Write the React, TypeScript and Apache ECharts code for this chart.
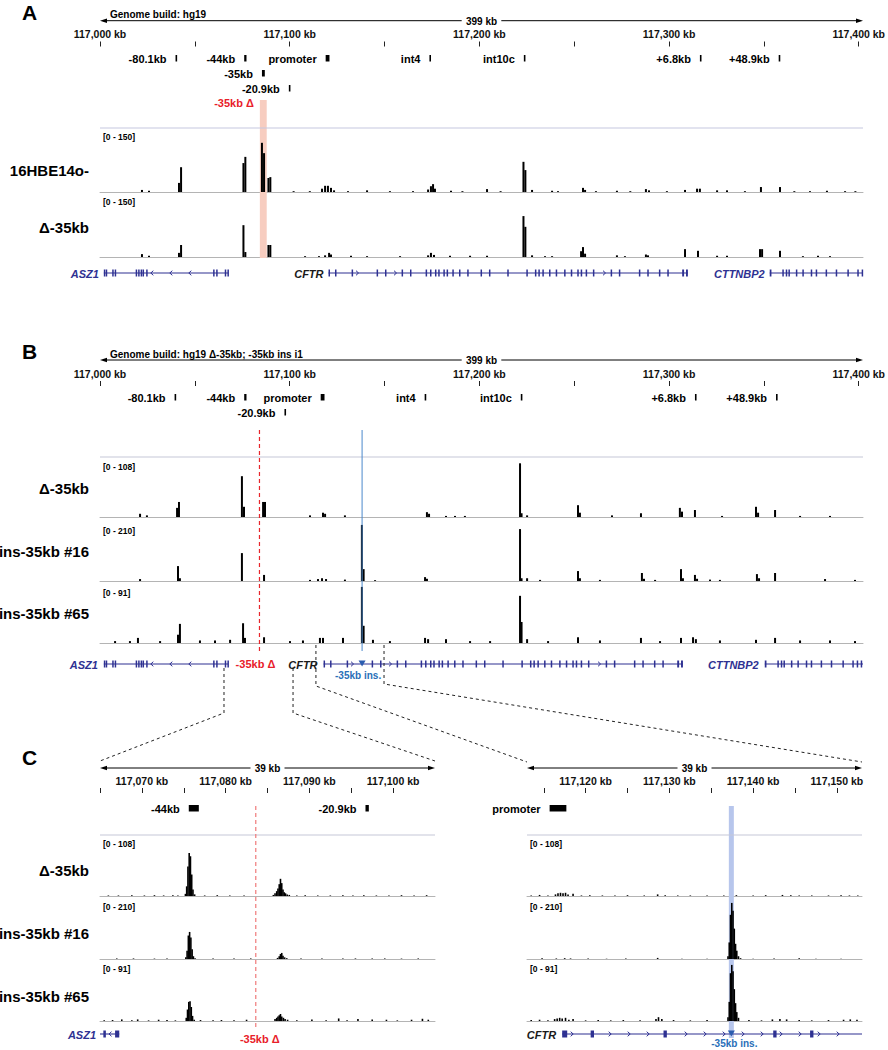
import React, { useEffect, useRef } from 'react';
import * as echarts from 'echarts';

const FONT = '"Liberation Sans", Arial, Helvetica, sans-serif';

// ---------- coordinate ranges (kb) ----------
const GENOME_RANGE: [number, number] = [117000, 117400];
const ZOOM_LEFT_RANGE: [number, number] = [117065, 117105];
const ZOOM_RIGHT_RANGE: [number, number] = [117113, 117153];

const GENOME_TICKS = [117000, 117050, 117100, 117150, 117200, 117250, 117300, 117350, 117400];
const GENOME_TICK_LABELS = [117000, 117100, 117200, 117300, 117400];
const ZOOM_LEFT_TICKS = [117065, 117070, 117075, 117080, 117085, 117090, 117095, 117100];
const ZOOM_LEFT_TICK_LABELS = [117070, 117080, 117090, 117100];
const ZOOM_RIGHT_TICKS = [117115, 117120, 117125, 117130, 117135, 117140, 117145, 117150];
const ZOOM_RIGHT_TICK_LABELS = [117120, 117130, 117140, 117150];

// ---------- landmarks (kb) ----------
const DEL_REGION_HG19 = [117083.8, 117087.4];
const DEL_POINT_KB = 117083.6; // in the Δ-35kb build
const DEL_SHIFT_KB = 2.6; // hg19 - Δ build, downstream of the deletion
const INS_POINT_KB = 117137.4;
const ZOOM_MARKS_KB = [117065, 117101.2, 117113.2, 117148.9];

// ---------- regulatory elements: [label, start kb, end kb, row] ----------
const FEATURES_HG19: [string, number, number, number][] = [
  ['-80.1kb', 117039.6, 117040.1, 0],
  ['-44kb', 117075.6, 117076.8, 0],
  ['promoter', 117118.3, 117120.3, 0],
  ['int4', 117172.7, 117173.5, 0],
  ['int10c', 117222.2, 117222.7, 0],
  ['+6.8kb', 117314.5, 117315.0, 0],
  ['+48.9kb', 117355.8, 117356.3, 0],
  ['-35kb', 117084.9, 117086.4, 1],
  ['-20.9kb', 117099.0, 117099.4, 2],
];
const FEATURES_DEL: [string, number, number, number][] = [
  ['-80.1kb', 117039.1, 117039.6, 0],
  ['-44kb', 117075.6, 117076.8, 0],
  ['promoter', 117115.7, 117117.7, 0],
  ['int4', 117170.2, 117171.0, 0],
  ['int10c', 117220.6, 117221.1, 0],
  ['+6.8kb', 117311.9, 117312.4, 0],
  ['+48.9kb', 117354.4, 117354.9, 0],
  ['-20.9kb', 117096.7, 117097.1, 1],
];

// ---------- genes (Δ-35kb build coordinates) ----------
const ASZ1_EXONS = [[117002.0, 117002.6], [117003.0, 117003.5], [117006.4, 117006.9], [117007.7, 117008.2], [117018.7, 117019.1], [117020.0, 117020.4], [117021.3, 117021.7], [117022.3, 117022.7], [117024.2, 117024.7], [117059.3, 117059.7], [117060.9, 117061.3], [117065.4, 117065.7], [117066.8, 117067.3]];
const CFTR_EXONS = [[117117.2, 117117.8], [117120.6, 117121.0], [117129.3, 117129.7], [117142.4, 117142.8], [117146.8, 117147.2], [117155.5, 117155.9], [117159.9, 117160.3], [117168.1, 117168.5], [117170.4, 117170.8], [117173.0, 117173.4], [117174.7, 117175.1], [117177.4, 117177.8], [117179.1, 117179.5], [117182.1, 117182.5], [117185.6, 117186.0], [117189.9, 117190.3], [117196.9, 117197.3], [117201.3, 117201.7], [117210.9, 117211.3], [117220.9, 117221.3], [117225.4, 117225.8], [117227.2, 117227.6], [117229.3, 117229.7], [117232.8, 117233.2], [117236.3, 117236.7], [117240.7, 117241.1], [117244.2, 117244.6], [117247.6, 117248.0], [117249.4, 117249.8], [117252.0, 117252.4], [117255.8, 117256.2], [117265.1, 117265.5], [117269.4, 117269.8], [117279.9, 117280.3], [117284.3, 117284.7], [117290.4, 117290.8], [117294.8, 117295.2], [117302.6, 117303.6], [117304.6, 117305.6]];
const CTTNBP2_EXONS = [[117348.5, 117349.4], [117355.1, 117355.5], [117356.9, 117357.3], [117358.3, 117358.7], [117362.2, 117362.6], [117365.6, 117366.0], [117370.0, 117370.4], [117372.6, 117373.0], [117377.8, 117378.2], [117383.1, 117383.5], [117389.2, 117389.6], [117394.4, 117394.8], [117396.7, 117397.1], [117398.8, 117399.2]];
const GENE_NAMES = ['ASZ1', 'CFTR', 'CTTNBP2'];
const GENE_SPANS = [[117002.0, 117067.3], [117117.2, 117305.6], [117348.5, 117405.0]];
const GENE_STRANDS = ['-', '+', '-'];
const GENE_EXONS = [ASZ1_EXONS, CFTR_EXONS, CTTNBP2_EXONS];

// ---------- signal tracks: [kb, value] ----------
const A_16HBE = [[117022.0, 5], [117025.7, 3], [117041.4, 22], [117042.5, 60], [117075.2, 70], [117076.2, 85], [117084.9, 119], [117086.0, 94], [117088.3, 34], [117089.3, 36], [117101.5, 2], [117110.0, 2], [117116.4, 8], [117118.0, 15], [117119.5, 15], [117121.1, 10], [117122.7, 4], [117130.0, 2], [117140.0, 4], [117152.0, 2], [117164.1, 2], [117172.0, 6], [117173.5, 14], [117174.6, 19], [117175.6, 8], [117184.0, 3], [117190.0, 2], [117202.9, 7], [117210.0, 2], [117222.0, 73], [117223.0, 53], [117226.5, 5], [117237.0, 3], [117240.1, 2], [117253.2, 10], [117254.3, 5], [117260.0, 2], [117271.0, 3], [117278.0, 2], [117286.2, 7], [117287.8, 4], [117297.2, 2], [117306.7, 5], [117313.0, 8], [117314.5, 8], [117323.5, 4], [117328.7, 4], [117338.1, 2], [117346.5, 12], [117356.5, 12], [117364.0, 2], [117372.2, 2], [117381.1, 3], [117390.6, 2], [117396.0, 2]];
const A_DEL35 = [[117022.0, 7], [117025.7, 3], [117041.4, 10], [117042.5, 29], [117075.2, 77], [117076.2, 12], [117088.3, 29], [117089.3, 29], [117107.5, 2], [117114.8, 2], [117118.0, 4], [117120.1, 10], [117121.1, 6], [117131.6, 3], [117140.0, 2], [117157.3, 2], [117172.0, 4], [117173.5, 10], [117175.1, 5], [117183.5, 3], [117194.0, 3], [117202.9, 3], [117222.0, 99], [117223.0, 73], [117226.5, 4], [117233.3, 2], [117237.0, 2], [117252.2, 14], [117253.2, 24], [117254.3, 8], [117271.0, 4], [117275.2, 2], [117286.2, 6], [117287.3, 4], [117306.7, 19], [117313.5, 15], [117323.5, 3], [117328.7, 3], [117346.0, 19], [117347.1, 19], [117356.5, 15], [117368.5, 2], [117376.4, 3], [117382.7, 2]];

const B_DEL35 = [[117021.0, 6], [117024.6, 3], [117040.4, 17], [117041.4, 28], [117074.4, 76], [117075.5, 19], [117085.5, 28], [117086.5, 28], [117110.1, 3], [117116.9, 8], [117118.0, 6], [117128.4, 3], [117171.4, 9], [117172.5, 6], [117181.4, 2], [117186.1, 2], [117191.3, 2], [117220.2, 100], [117221.0, 7], [117223.9, 3], [117250.6, 22], [117251.6, 8], [117268.4, 3], [117283.6, 7], [117304.0, 17], [117305.1, 10], [117311.9, 13], [117326.1, 2], [117343.9, 19], [117345.0, 8], [117353.9, 13], [117367.0, 2], [117382.7, 2]];
const B_INS16 = [[117021.0, 7], [117040.9, 54], [117041.9, 10], [117074.4, 101], [117086.0, 22], [117110.1, 4], [117114.3, 7], [117116.4, 10], [117118.5, 7], [117128.4, 5], [117137.3, 203], [117138.2, 43], [117144.2, 3], [117170.4, 14], [117171.4, 8], [117220.2, 188], [117221.0, 10], [117223.9, 10], [117230.7, 4], [117250.6, 36], [117251.6, 10], [117262.1, 4], [117284.1, 29], [117285.2, 8], [117291.0, 4], [117304.6, 43], [117305.6, 10], [117311.9, 22], [117313.0, 8], [117319.8, 5], [117325.0, 4], [117344.4, 25], [117345.5, 10], [117353.9, 29], [117380.1, 7], [117395.8, 4]];
const B_INS65 = [[117007.9, 3], [117015.7, 3], [117019.9, 8], [117031.5, 3], [117040.9, 13], [117041.9, 30], [117052.4, 4], [117060.3, 4], [117068.2, 5], [117075.0, 31], [117076.0, 8], [117086.0, 9], [117099.6, 3], [117106.4, 4], [117115.3, 8], [117116.9, 8], [117127.4, 8], [117137.3, 88], [117138.2, 27], [117143.1, 5], [117152.0, 3], [117170.4, 8], [117172.0, 6], [117181.4, 6], [117194.0, 3], [117204.5, 3], [117220.2, 74], [117221.0, 33], [117223.9, 6], [117234.9, 3], [117250.6, 9], [117262.1, 4], [117283.6, 8], [117293.6, 3], [117304.6, 8], [117310.9, 9], [117312.4, 6], [117325.0, 4], [117343.9, 5], [117353.9, 8], [117367.0, 4], [117382.7, 4], [117395.8, 3]];

const CL_DEL35 = [[117066.0, 1], [117067.2, 1], [117068.8, 1.5], [117070.3, 1], [117071.5, 1.5], [117072.6, 1], [117073.7, 1.5], [117074.3, 1], [117075.2, 4], [117075.35, 18], [117075.5, 55], [117075.65, 80], [117075.8, 74], [117075.95, 40], [117076.1, 12], [117076.3, 3], [117077.5, 1], [117079.0, 1.5], [117080.5, 1], [117082.2, 1], [117085.7, 2], [117085.9, 5], [117086.1, 9], [117086.25, 14], [117086.4, 22], [117086.55, 32], [117086.7, 24], [117086.85, 12], [117087.0, 7], [117087.15, 5], [117087.35, 3], [117087.6, 2], [117088.5, 1], [117089.5, 1.5], [117091.0, 1], [117092.5, 1], [117094.0, 1.5], [117095.2, 1], [117096.5, 1.5], [117098.0, 1], [117099.5, 1], [117101.0, 1.5], [117102.5, 1], [117104.0, 1.5]];
const CL_INS16 = [[117067.0, 2], [117069.0, 2], [117071.5, 1.5], [117073.0, 2], [117075.25, 6], [117075.4, 30], [117075.55, 85], [117075.7, 98], [117075.85, 78], [117076.0, 35], [117076.15, 10], [117076.35, 3], [117078.5, 2], [117081.0, 1.5], [117083.0, 2], [117086.2, 4], [117086.4, 10], [117086.55, 18], [117086.7, 22], [117086.85, 12], [117087.05, 6], [117087.3, 3], [117089.0, 1.5], [117091.5, 2], [117094.0, 2], [117095.5, 2], [117097.5, 2], [117099.0, 2], [117101.0, 1.5], [117103.0, 2]];
const CL_INS65 = [[117065.5, 1], [117066.5, 1.5], [117067.6, 2.5], [117068.8, 1], [117069.5, 2.5], [117070.8, 1], [117072.0, 2], [117073.0, 1.5], [117074.0, 1], [117075.3, 5], [117075.45, 18], [117075.6, 30], [117075.75, 31], [117075.9, 22], [117076.05, 8], [117076.25, 2], [117077.0, 1.5], [117078.5, 1], [117079.5, 1.5], [117081.0, 1], [117082.5, 2], [117085.9, 3], [117086.1, 5], [117086.25, 7], [117086.4, 9], [117086.55, 11], [117086.7, 7], [117086.9, 5], [117087.1, 3], [117087.4, 2], [117088.5, 1], [117090.3, 2.5], [117092.0, 1], [117093.5, 4], [117094.5, 1], [117095.8, 3], [117097.5, 2.5], [117099.2, 2], [117100.5, 1], [117102.2, 2], [117103.5, 3.5], [117104.2, 2]];

const CR_DEL35 = [[117113.5, 1], [117114.5, 2], [117115.5, 1], [117116.4, 3], [117116.7, 5], [117117.0, 6], [117117.3, 5], [117117.6, 6], [117117.9, 3], [117118.5, 4], [117119.5, 1], [117120.5, 1.5], [117122.0, 1], [117123.5, 1], [117125.0, 1.5], [117127.0, 1], [117128.6, 3], [117129.5, 1.5], [117131.0, 1], [117132.5, 1], [117134.5, 1], [117136.5, 1], [117138.0, 1.5], [117140.0, 1], [117141.5, 1.5], [117143.5, 2], [117144.5, 1.5], [117145.5, 1], [117147.0, 1], [117149.0, 1], [117150.5, 1.5], [117151.5, 1], [117152.5, 1]];
const CR_INS16 = [[117114.8, 3], [117116.5, 2], [117117.5, 3], [117118.2, 2], [117120.3, 1.5], [117122.5, 1], [117124.8, 2], [117128.6, 4], [117131.5, 1], [117134.5, 1], [117137.0, 10], [117137.15, 60], [117137.3, 160], [117137.45, 203], [117137.6, 175], [117137.75, 110], [117137.9, 55], [117138.05, 30], [117138.25, 10], [117138.5, 3], [117140.0, 1], [117142.5, 2], [117145.5, 2.5], [117147.5, 1], [117150.5, 1]];
const CR_INS65 = [[117113.5, 1.5], [117114.5, 2], [117115.5, 1], [117116.3, 3], [117116.6, 4], [117116.9, 5], [117117.2, 4], [117117.6, 5], [117118.0, 2], [117118.5, 3], [117120.0, 1], [117121.5, 1.5], [117123.0, 1], [117124.5, 1.5], [117126.5, 1], [117128.4, 3], [117128.7, 6], [117129.1, 3], [117130.5, 1.5], [117132.5, 1], [117134.5, 1.5], [117137.0, 6], [117137.15, 30], [117137.3, 75], [117137.45, 88], [117137.6, 78], [117137.75, 50], [117137.9, 28], [117138.05, 14], [117138.25, 5], [117139.5, 1.5], [117141.0, 1], [117142.3, 2.5], [117143.2, 3], [117144.0, 2.5], [117145.5, 1.5], [117147.0, 1], [117149.0, 1.5], [117150.8, 2], [117151.6, 2.5], [117152.4, 2]];

// ---------- layout ----------
const GENE_COLOR = '#2e3192';
const GENE_LABEL_COLORS = ['#2e3192', '#1a1a1a', '#2e3192'];

function buildOption() {
  const grid: any[] = [];
  const xAxis: any[] = [];
  const yAxis: any[] = [];
  const series: any[] = [];
  const graphic: any[] = [];

  const T = (text: string, x: number, y: number, o: any = {}) => {
    const align = o.align || 'left';
    const v = o.v || 'middle';
    graphic.push({
      type: 'text', x, y, z: 100, silent: true,
      style: {
        text, fill: o.color || '#000',
        font: `${o.italic ? 'italic ' : ''}${o.weight || 'bold'} ${o.size || 11}px ${FONT}`,
        align, verticalAlign: v, textAlign: align, textVerticalAlign: v,
      },
    });
  };
  const L = (x1: number, y1: number, x2: number, y2: number, o: any = {}) => {
    graphic.push({ type: 'line', z: o.z ?? 20, silent: true, shape: { x1, y1, x2, y2 }, style: { stroke: o.color || '#000', lineWidth: o.w || 1, lineDash: o.dash } });
  };
  const R = (x: number, y: number, w: number, h: number, fill: string, z = 1) => {
    graphic.push({ type: 'rect', z, silent: true, shape: { x, y, width: w, height: h }, style: { fill } });
  };
  const P = (points: number[][], fill: string) => {
    graphic.push({ type: 'polygon', z: 30, silent: true, shape: { points }, style: { fill } });
  };

  const lin = (range: [number, number], left: number, width: number) => (kb: number) => left + ((kb - range[0]) / (range[1] - range[0])) * width;
  const xG = lin(GENOME_RANGE, 100, 763);
  const xCL = lin(ZOOM_LEFT_RANGE, 100, 335);
  const xCR = lin(ZOOM_RIGHT_RANGE, 527, 335);

  const addGrid = (left: number, width: number, top: number, height: number, range: [number, number], xExtra: any = {}, yMax = 1, yInverse = false) => {
    const i = grid.length;
    grid.push({ left, width, top, height, show: false });
    xAxis.push({ gridIndex: i, type: 'value', min: range[0], max: range[1], show: false, splitLine: { show: false }, ...xExtra });
    yAxis.push({ gridIndex: i, type: 'value', min: 0, max: yMax, inverse: yInverse, show: false, splitLine: { show: false } });
    return i;
  };

  const addRulerAxis = (left: number, width: number, top: number, range: [number, number], ticks: number[], labels: number[]) =>
    addGrid(left, width, top, 1, range, {
      show: true,
      position: 'top',
      axisLine: { show: false },
      axisTick: { show: true, length: 5, customValues: ticks, lineStyle: { color: '#222', width: 1 } },
      axisLabel: {
        show: true, customValues: labels, margin: 6,
        formatter: (v: number) => `${Number(v).toLocaleString('en-US')} kb`,
        fontSize: 10.5, fontWeight: 'bold', fontFamily: FONT, color: '#111',
      },
    });

  const addRuler = (x1: number, x2: number, y: number, span: string, title?: string) => {
    const mid = (x1 + x2) / 2;
    const gap = span.length * 2.8 + 3;
    L(x1 + 3, y, mid - gap, y);
    L(mid + gap, y, x2 - 3, y);
    P([[x1, y], [x1 + 7, y - 2.3], [x1 + 7, y + 2.3]], '#000');
    P([[x2, y], [x2 - 7, y - 2.3], [x2 - 7, y + 2.3]], '#000');
    T(span, mid, y + 0.5, { align: 'center', size: 10 });
    if (title) T(title, x1 + 10, y - 6, { size: 10 });
  };

  const addFeatures = (left: number, width: number, top: number, range: [number, number], feats: [string, number, number, number][], singleRow: boolean) => {
    const list = feats.filter((f) => f[2] > range[0] && f[1] < range[1]);
    const gi = addGrid(left, width, top, 30, range, {}, 2, true);
    series.push({
      type: 'custom', xAxisIndex: gi, yAxisIndex: gi, silent: true, z: 6,
      data: list.map((f) => [f[1], singleRow ? 0 : f[3], f[2]]),
      encode: { x: 0, y: 1 },
      renderItem: (params: any, api: any) => {
        const f = list[params.dataIndex];
        const p0 = api.coord([api.value(0), api.value(1)]);
        const p1 = api.coord([api.value(2), api.value(1)]);
        const w = Math.max(p1[0] - p0[0], 1.6);
        return {
          type: 'group',
          children: [
            { type: 'rect', shape: { x: p0[0], y: p0[1] - 3, width: w, height: 6.5 }, style: { fill: '#000' } },
            {
              type: 'text',
              style: {
                text: f[0], x: p0[0] - 9, y: p0[1] + 0.5, fill: '#000',
                font: `bold 11px ${FONT}`, align: 'right', verticalAlign: 'middle', textAlign: 'right', textVerticalAlign: 'middle',
              },
            },
          ],
        };
      },
    });
  };

  const addGenes = (left: number, width: number, top: number, range: [number, number], shift: boolean, labelGap: number) => {
    const sh = (kb: number) => (shift && kb > DEL_POINT_KB ? kb + DEL_SHIFT_KB : kb);
    const gi = addGrid(left, width, top, 1, range, {}, 1, true);
    series.push({
      type: 'custom', xAxisIndex: gi, yAxisIndex: gi, silent: true, z: 6,
      data: GENE_SPANS.map((s) => [sh(s[0]), 0, sh(s[1])]),
      encode: { x: 0, y: 1 },
      renderItem: (params: any, api: any) => {
        const idx = params.dataIndex;
        const cs = params.coordSys;
        const lo = cs.x;
        const hi = cs.x + cs.width;
        const ps = api.coord([api.value(0), 0]);
        const pe = api.coord([api.value(2), 0]);
        if (pe[0] < lo || ps[0] > hi) return null;
        const a = Math.max(ps[0], lo);
        const b = Math.min(pe[0], hi);
        const y = ps[1];
        const children: any[] = [{ type: 'line', shape: { x1: a, y1: y, x2: b, y2: y }, style: { stroke: GENE_COLOR, lineWidth: 1.1 } }];
        const exX: number[] = [];
        GENE_EXONS[idx].forEach(([s, e]) => {
          const p = api.coord([sh(s), 0])[0];
          const q = api.coord([sh(e), 0])[0];
          if (q < lo || p > hi) return;
          const x0 = Math.max(p, lo);
          const x1 = Math.min(q, hi);
          children.push({ type: 'rect', shape: { x: x0, y: y - 3.5, width: Math.max(x1 - x0, 1.5), height: 7 }, style: { fill: GENE_COLOR } });
          exX.push((x0 + x1) / 2);
        });
        const d = GENE_STRANDS[idx] === '+' ? 1 : -1;
        for (let cx = a + 10; cx < b - 5; cx += 19) {
          if (exX.some((ex) => Math.abs(ex - cx) < 5)) continue;
          children.push({ type: 'polyline', shape: { points: [[cx - d * 1.5, y - 2.3], [cx + d * 1, y], [cx - d * 1.5, y + 2.3]] }, style: { stroke: GENE_COLOR, lineWidth: 1, fill: null } });
        }
        children.push({
          type: 'text',
          style: {
            text: GENE_NAMES[idx], x: a - labelGap, y: y + 0.5, fill: GENE_LABEL_COLORS[idx],
            font: `italic bold 11px ${FONT}`, align: 'right', verticalAlign: 'middle', textAlign: 'right', textVerticalAlign: 'middle',
          },
        });
        return { type: 'group', children };
      },
    });
  };

  const addTrack = (left: number, width: number, range: [number, number], top: number, h: number, max: number, data: number[][], bw: number) => {
    const i = addGrid(left, width, top, h, range, {
      show: true,
      axisLine: { show: true, onZero: false, lineStyle: { color: '#b4b4b4', width: 1 } },
      axisTick: { show: false }, axisLabel: { show: false },
    }, max);
    series.push({ type: 'bar', xAxisIndex: i, yAxisIndex: i, data, barWidth: bw, itemStyle: { color: '#000' }, silent: true, z: 5 });
  };

  // ================= Panel A =================
  T('A', 22, 12, { size: 21 });
  addRuler(100, 863, 20.7, '399 kb', 'Genome build: hg19');
  addRulerAxis(100, 763, 45.5, GENOME_RANGE, GENOME_TICKS, GENOME_TICK_LABELS);
  addFeatures(100, 763, 58, GENOME_RANGE, FEATURES_HG19, false);
  const dx0 = xG(DEL_REGION_HG19[0]);
  const dx1 = xG(DEL_REGION_HG19[1]);
  R(dx0, 100, dx1 - dx0, 158, '#f7cdc0', 1);
  T('-35kb Δ', dx0 - 6, 103, { align: 'right', color: '#e8202a' });
  L(100, 128, 863, 128, { color: '#c6c8e0', w: 1.2 });
  const aTracks = [
    { name: '16HBE14o-', rng: '[0 - 150]', max: 150, data: A_16HBE, top: 130, labelY: 170 },
    { name: 'Δ-35kb', rng: '[0 - 150]', max: 150, data: A_DEL35, top: 195, labelY: 227 },
  ];
  aTracks.forEach((t) => {
    addTrack(100, 763, GENOME_RANGE, t.top, 62, t.max, t.data, 2);
    T(t.rng, 103, t.top + 7, { size: 8.5 });
    T(t.name, 89, t.labelY, { align: 'right', size: 15 });
  });
  addGenes(100, 763, 273, GENOME_RANGE, true, 5);

  // ================= Panel B =================
  T('B', 22, 351, { size: 21 });
  addRuler(100, 863, 360, '399 kb', 'Genome build: hg19 Δ-35kb; -35kb ins i1');
  addRulerAxis(100, 763, 385, GENOME_RANGE, GENOME_TICKS, GENOME_TICK_LABELS);
  addFeatures(100, 763, 397, GENOME_RANGE, FEATURES_DEL, false);
  const bDel = xG(DEL_POINT_KB);
  const bIns = xG(INS_POINT_KB);
  L(bDel, 430, bDel, 651, { color: '#e8262b', w: 1.2, dash: [4, 3], z: 40 });
  L(bIns, 430, bIns, 651, { color: '#4a88cc', w: 1, z: 40 });
  L(100, 457, 863, 457, { color: '#c6c8d8', w: 1.2 });
  const bTracks = [
    { name: 'Δ-35kb', rng: '[0 - 108]', max: 108, data: B_DEL35, top: 459, labelY: 488 },
    { name: 'ins-35kb #16', rng: '[0 - 210]', max: 210, data: B_INS16, top: 523, labelY: 551 },
    { name: 'ins-35kb #65', rng: '[0 - 91]', max: 91, data: B_INS65, top: 585, labelY: 613 },
  ];
  bTracks.forEach((t) => {
    addTrack(100, 763, GENOME_RANGE, t.top, 58, t.max, t.data, 2);
    T(t.rng, 103, t.top + 8, { size: 8.5 });
    T(t.name, 89, t.labelY, { align: 'right', size: 15 });
  });
  addGenes(100, 763, 664, GENOME_RANGE, false, 6);
  T('-35kb Δ', bDel - 4, 664, { align: 'center', color: '#e8202a' });
  P([[bIns - 3.5, 660.5], [bIns + 3.5, 660.5], [bIns, 666.5]], '#2a5db0');
  T('-35kb ins.', bIns - 4, 675, { align: 'center', size: 10, color: '#2a6fb8' });

  // zoom connectors
  const zx = ZOOM_MARKS_KB.map(xG);
  const dash = { type: 'polyline', z: 40, silent: true };
  graphic.push({ ...dash, shape: { points: [[zx[0], 668], [zx[0], 713], [100, 761]] }, style: { stroke: '#222', lineWidth: 1, lineDash: [3, 3], fill: null } });
  graphic.push({ ...dash, shape: { points: [[zx[1], 668], [zx[1], 713], [435, 761]] }, style: { stroke: '#222', lineWidth: 1, lineDash: [3, 3], fill: null } });
  graphic.push({ ...dash, shape: { points: [[zx[2], 645], [zx[2], 686], [527, 762]] }, style: { stroke: '#222', lineWidth: 1, lineDash: [3, 3], fill: null } });
  graphic.push({ ...dash, shape: { points: [[zx[3], 645], [zx[3], 684], [862, 762]] }, style: { stroke: '#222', lineWidth: 1, lineDash: [3, 3], fill: null } });

  // ================= Panel C =================
  T('C', 22, 757, { size: 21 });
  addRuler(100, 435, 768, '39 kb');
  addRuler(527, 862, 768, '39 kb');
  addRulerAxis(100, 335, 792, ZOOM_LEFT_RANGE, ZOOM_LEFT_TICKS, ZOOM_LEFT_TICK_LABELS);
  addRulerAxis(527, 335, 792, ZOOM_RIGHT_RANGE, ZOOM_RIGHT_TICKS, ZOOM_RIGHT_TICK_LABELS);
  addFeatures(100, 335, 808, ZOOM_LEFT_RANGE, FEATURES_DEL, true);
  addFeatures(527, 335, 808, ZOOM_RIGHT_RANGE, FEATURES_DEL, true);
  L(100, 835, 435, 835, { color: '#c6c8d8', w: 1.2 });
  L(527, 835, 862, 835, { color: '#c6c8d8', w: 1.2 });
  const cDel = xCL(DEL_POINT_KB);
  const cIns = xCR(INS_POINT_KB);
  L(cDel, 806, cDel, 1030, { color: '#f07a7a', w: 1.2, dash: [4, 3], z: 40 });
  R(cIns - 2.5, 806, 5, 232, '#b7c6ec', 1);
  const cTracks = [
    { name: 'Δ-35kb', rng: '[0 - 108]', max: 108, left: CL_DEL35, right: CR_DEL35, top: 838, labelY: 870 },
    { name: 'ins-35kb #16', rng: '[0 - 210]', max: 210, left: CL_INS16, right: CR_INS16, top: 901, labelY: 933 },
    { name: 'ins-35kb #65', rng: '[0 - 91]', max: 91, left: CL_INS65, right: CR_INS65, top: 963, labelY: 996 },
  ];
  cTracks.forEach((t) => {
    addTrack(100, 335, ZOOM_LEFT_RANGE, t.top, 58, t.max, t.left, 1.6);
    addTrack(527, 335, ZOOM_RIGHT_RANGE, t.top, 58, t.max, t.right, 1.6);
    T(t.rng, 103, t.top + 6, { size: 8.5 });
    T(t.rng, 530, t.top + 6, { size: 8.5 });
    T(t.name, 89, t.labelY, { align: 'right', size: 15 });
  });
  addGenes(100, 335, 1034, ZOOM_LEFT_RANGE, false, 4);
  addGenes(527, 335, 1034, ZOOM_RIGHT_RANGE, false, 6);
  T('-35kb Δ', cDel + 4, 1039, { align: 'center', color: '#e8202a' });
  P([[cIns - 3.5, 1030.5], [cIns + 3.5, 1030.5], [cIns, 1036.5]], '#2a5db0');
  T('-35kb ins.', cIns + 3, 1043.5, { align: 'center', size: 10, color: '#2a6fb8' });

  return {
    animation: false,
    backgroundColor: '#ffffff',
    grid, xAxis, yAxis, series, graphic,
  };
}

export default function App() {
  const ref = useRef<HTMLDivElement>(null);
  useEffect(() => {
    if (!ref.current) return;
    const chart = echarts.init(ref.current, undefined, { renderer: 'svg' });
    chart.setOption(buildOption() as any);
    return () => chart.dispose();
  }, []);
  return <div ref={ref} style={{ position: 'absolute', left: 0, top: 0, width: 888, height: 1050, background: '#fff' }} />;
}
